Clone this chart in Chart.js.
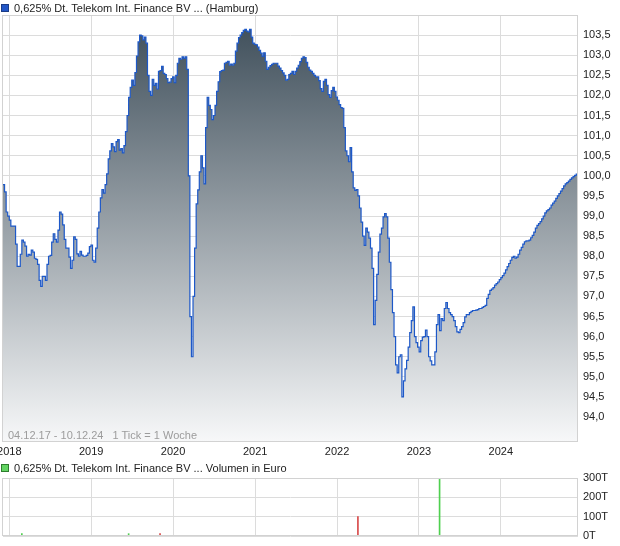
<!DOCTYPE html>
<html>
<head>
<meta charset="utf-8">
<script src="https://cdn.jsdelivr.net/npm/chart.js@4.4.1/dist/chart.umd.min.js"></script>
<style>
  html, body { margin: 0; padding: 0; background: #fff; }
  body { width: 620px; height: 546px; position: relative; overflow: hidden;
         font-family: "Liberation Sans", Arial, sans-serif; font-size: 11px; color: #222; }
  canvas { position: absolute; left: 0; }
  #priceChart { top: 0; }
  #volumeChart { top: 462px; }
  .legend { position: absolute; left: 1px; height: 12px; line-height: 12px; white-space: nowrap; padding-left: 13px; }
  .legend i { position: absolute; left: 0; top: 2px; width: 6px; height: 6px; border: 1px solid; }
  #priceLegend { top: 2px; }
  #priceLegend i { background: #2256c6; border-color: #1b3c86; }
  #volumeLegend { top: 462px; }
  #volumeLegend i { background: #63d463; border-color: #2e7d2e; }
  #rangeNote { position: absolute; left: 8px; top: 429px; color: #9c9c9c; white-space: pre; line-height: 12px; }
</style>
</head>
<body>
<canvas id="priceChart" width="620" height="462"></canvas>
<canvas id="volumeChart" width="620" height="84"></canvas>
<div class="legend" id="priceLegend"><i></i>0,625% Dt. Telekom Int. Finance BV ... (Hamburg)</div>
<div class="legend" id="volumeLegend"><i></i>0,625% Dt. Telekom Int. Finance BV ... Volumen in Euro</div>
<div id="rangeNote">04.12.17 - 10.12.24   1 Tick = 1 Woche</div>

<script>
// weekly closing prices, first tick 04.12.17, last tick 09.12.24
const price2018 = [
    99.78, 99.6, 99.1, 99.0, 98.9, 98.75, 98.75, 98.75, 98.3, 97.75,
    97.75, 98.05, 98.4, 98.35, 98.25, 98.0, 98.05, 98.03, 98.15, 98.1,
    97.95, 97.92, 97.8, 97.4, 97.25, 97.5, 97.5, 97.4, 97.8, 98.0,
    98.02, 98.35, 98.56, 98.42, 98.35, 98.65, 99.1, 99.05, 98.78, 98.42,
    98.2, 98.2, 97.98, 97.7, 97.9, 98.48, 98.42, 98.06, 98.0, 98.12,
    98.03, 98.0, 98.0, 98.02, 98.08, 98.24
];
const price2019 = [
    98.28, 97.9, 97.85, 98.2, 98.7, 99.1, 99.45, 99.66, 99.57, 99.78,
    100.05, 100.42, 100.62, 100.8, 100.72, 100.6, 100.85, 100.9, 100.64, 100.68,
    100.57, 100.75, 101.1, 101.5, 101.95, 102.2, 102.38, 102.25, 102.57, 102.98,
    103.33, 103.5, 103.48, 103.38, 103.45, 103.3, 102.5, 102.1, 102.0, 102.4,
    102.25, 102.3, 102.16, 102.6, 102.62, 102.72, 102.55, 102.52, 102.42, 102.32,
    102.33, 102.42
];
const price2020 = [
    102.46, 102.32, 102.5, 102.8, 102.92, 102.9, 102.96, 102.92, 102.96, 102.65,
    100.0, 96.5, 95.5, 97.0, 98.2, 99.3, 99.65, 100.1, 100.5, 100.2,
    99.8, 101.2, 101.95, 101.75, 101.65, 101.4, 101.5, 101.75, 102.1, 102.34,
    102.59, 102.62, 102.63, 102.8, 102.82, 102.85, 102.75, 102.78, 102.75, 102.8,
    103.1, 103.3, 103.44, 103.5, 103.56, 103.62, 103.64, 103.6, 103.58, 103.64,
    103.45, 103.3
];
const price2021 = [
    103.27, 103.26, 103.2, 103.12, 103.05, 102.97, 103.06, 102.85, 102.65, 102.7,
    102.74, 102.77, 102.8, 102.8, 102.8, 102.73, 102.68, 102.62, 102.56, 102.5,
    102.38, 102.4, 102.52, 102.55, 102.6, 102.52, 102.6, 102.68, 102.75, 102.84,
    102.92, 102.96, 102.94, 102.82, 102.7, 102.63, 102.6, 102.55, 102.5, 102.46,
    102.46, 102.37, 102.17, 102.1, 102.35, 102.4, 102.25, 102.02, 101.95, 102.12,
    102.2, 102.1
];
const price2022 = [
    101.96, 101.88, 101.77, 101.7, 101.68, 101.2, 100.62, 100.5, 100.35, 100.7,
    100.1, 99.7, 99.64, 99.66, 99.5, 99.2, 98.85, 98.5, 98.27, 98.7,
    98.6, 98.45, 98.2, 97.7, 96.3, 96.9, 97.55, 98.1, 98.55, 98.7,
    98.98, 99.06, 98.98, 98.45, 97.85, 97.17, 96.6, 96.0, 95.3, 95.1,
    95.5, 95.55, 94.5, 94.9, 95.2, 95.41, 95.74, 96.1, 96.4, 96.74,
    96.0, 95.85
];
const price2023 = [
    95.74, 95.62, 95.9, 95.99, 96.0, 96.16, 96.0, 95.5, 95.4, 95.3,
    95.3, 95.62, 96.3, 96.55, 96.15, 96.45, 96.4, 96.7, 96.85, 96.7,
    96.6, 96.55, 96.5, 96.4, 96.25, 96.12, 96.1, 96.18, 96.25, 96.35,
    96.49, 96.55, 96.55, 96.6, 96.63, 96.65, 96.65, 96.66, 96.67, 96.7,
    96.7, 96.73, 96.75, 96.78, 96.95, 97.05, 97.15, 97.18, 97.22, 97.28,
    97.32, 97.36
];
const price2024 = [
    97.42, 97.47, 97.52, 97.58, 97.66, 97.74, 97.82, 97.9, 97.97, 98.0,
    97.95, 97.98, 98.05, 98.15, 98.22, 98.3, 98.36, 98.38, 98.38, 98.4,
    98.46, 98.52, 98.6, 98.7, 98.77, 98.81, 98.86, 98.93, 99.0, 99.08,
    99.13, 99.16, 99.2, 99.27, 99.32, 99.37, 99.44, 99.5, 99.56, 99.62,
    99.68, 99.75, 99.8, 99.83, 99.87, 99.91, 99.95, 99.98, 100.01, 100.04,
    100.07
];

const yearLabels = ['2018', '2019', '2020', '2021', '2022', '2023', '2024'];
const priceTicks = [94, 94.5, 95, 95.5, 96, 96.5, 97, 97.5, 98, 98.5,
                    99, 99.5, 100, 100.5, 101, 101.5, 102, 102.5, 103, 103.5];

// volume in thousand euro, by week number since 04.12.17
const volumeWeeks = [12, 80, 100, 226, 278];
const volumeValues = [12, 12, 12, 100, 295];
const volumeUp = [true, true, false, false, true];
const volumeTicks = [0, 100, 200, 300];

const DAY = 86400000;
const seriesStart = Date.UTC(2017, 11, 4);
const seriesEnd = Date.UTC(2024, 11, 10);
const totalDays = (seriesEnd - seriesStart) / DAY;
const yearDays = yearLabels.map(y => (Date.UTC(+y, 0, 1) - seriesStart) / DAY);

const gridColor = '#dcdcdc';

Chart.defaults.font.family = '"Liberation Sans", Arial, sans-serif';
Chart.defaults.font.size = 11;
Chart.defaults.color = '#222';

const framePlugin = {
    id: 'frame',
    afterDatasetsDraw(chart) {
        const { ctx, chartArea: a } = chart;
        ctx.save();
        ctx.strokeStyle = '#d2d2d2';
        ctx.lineWidth = 1;
        ctx.strokeRect(a.left - 0.5, a.top + 0.5, a.right - a.left, a.bottom - a.top - 1);
        ctx.restore();
    }
};

function yearAxis(height, showLabels) {
    return {
        type: 'linear',
        min: 0,
        max: totalDays,
        offset: false,
        afterBuildTicks: s => { s.ticks = yearDays.map(v => ({ value: v })); },
        afterFit: s => { s.height = height; s.paddingLeft = 0; s.paddingRight = 0; },
        grid: { color: gridColor, drawTicks: false, offset: false },
        border: { display: false },
        ticks: {
            display: showLabels,
            padding: 3,
            autoSkip: false,
            maxRotation: 0,
            callback: v => yearLabels[yearDays.indexOf(v)]
        }
    };
}

function rightAxis(min, max, tickValues, format) {
    return {
        position: 'right',
        min: min,
        max: max,
        afterBuildTicks: s => { s.ticks = tickValues.map(v => ({ value: v })); },
        afterFit: s => { s.width = 42; s.paddingTop = 0; s.paddingBottom = 0; },
        grid: { color: gridColor, drawTicks: false },
        border: { display: false },
        ticks: { padding: 5, autoSkip: false, callback: format }
    };
}

const pricePoints = [];
[price2018, price2019, price2020, price2021, price2022, price2023, price2024]
    .flat()
    .forEach((v, week) => pricePoints.push({ x: week * 7, y: v }));

new Chart(document.getElementById('priceChart'), {
    type: 'line',
    data: {
        datasets: [{
            data: pricePoints,
            stepped: true,
            borderColor: '#1d58c8',
            borderWidth: 1.2,
            pointRadius: 0,
            fill: 'start',
            backgroundColor(context) {
                const { ctx, chartArea } = context.chart;
                if (!chartArea) return 'rgba(0,0,0,0)';
                const g = ctx.createLinearGradient(0, chartArea.top, 0, chartArea.bottom);
                g.addColorStop(0, 'rgb(60,76,88)');
                g.addColorStop(1, 'rgb(247,248,249)');
                return g;
            }
        }]
    },
    options: {
        responsive: false,
        animation: false,
        layout: { padding: { top: 15, left: 3, right: 0, bottom: 0 } },
        plugins: { legend: { display: false }, tooltip: { enabled: false } },
        scales: {
            x: yearAxis(20, true),
            y: rightAxis(93.38, 104.0, priceTicks, v => v.toFixed(1).replace('.', ','))
        }
    },
    plugins: [framePlugin]
});

new Chart(document.getElementById('volumeChart'), {
    type: 'bar',
    data: {
        datasets: [{
            data: volumeWeeks.map((w, k) => ({ x: w * 7, y: volumeValues[k] })),
            backgroundColor: volumeUp.map(up => up ? '#4fd04f' : '#d84a4a'),
            barThickness: 1,
            borderWidth: 0
        }]
    },
    options: {
        responsive: false,
        animation: false,
        layout: { padding: { top: 16, left: 3, right: 0, bottom: 0 } },
        plugins: { legend: { display: false }, tooltip: { enabled: false } },
        scales: {
            x: yearAxis(10, false),
            y: rightAxis(0, 300, volumeTicks, v => v + 'T')
        }
    },
    plugins: [framePlugin]
});
</script>
</body>
</html>
